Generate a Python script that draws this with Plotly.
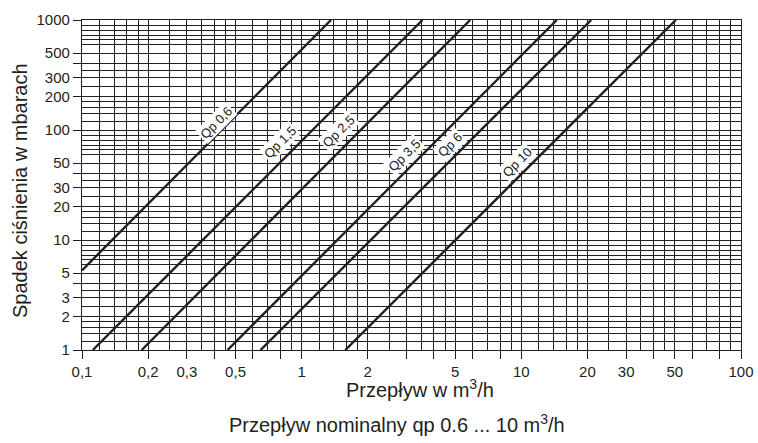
import math
import plotly.graph_objects as go

# ---- data ----
line_names = ["Qp 0,6", "Qp 1,5", "Qp 2,5", "Qp 3,5", "Qp 6", "Qp 10"]
# flow (m3/h) at start / end of each line and pressure drop (mbar) there
flow_start = [0.1, 0.112, 0.187, 0.46, 0.65, 1.58]
drop_start = [5.3, 1, 1, 1, 1, 1]
flow_end = [1.36, 3.55, 5.85, 14.5, 20.8, 50.5]
drop_end = [1000, 1000, 1000, 1000, 1000, 1000]

# label anchor points (flow, drop)
label_flow = [0.41, 0.797, 1.47, 2.93, 4.75, 9.57]
label_drop = [116, 76.3, 97.3, 58.5, 73.6, 50.2]

x_grid_steps = [1, 1.2, 1.4, 1.6, 1.8, 2, 2.5, 3, 3.5, 4, 4.5, 5, 6, 7, 8, 9]
y_grid_steps = [1, 1.2, 1.4, 1.6, 1.8, 2, 2.5, 3, 3.5, 4, 5, 6, 6.6, 7.3, 8, 9]
x_decades = [0.1, 1, 10]
y_decades = [1, 10, 100]

x_tickvals = [0.1, 0.2, 0.3, 0.4, 0.5, 0.6, 0.8, 1, 2, 3, 4, 5, 6, 8,
              10, 20, 30, 40, 50, 60, 80, 100]
x_ticktext = ["0,1", "0,2", "0,3", "", "0,5", "", "", "1", "2", "", "", "5", "", "",
              "10", "20", "30", "", "50", "", "", "100"]
y_tickvals = [1, 2, 3, 4, 5, 10, 20, 30, 40, 50, 100, 200, 300, 400, 500, 1000]
y_ticktext = ["1", "2", "3", "", "5", "10", "20", "30", "", "50",
              "100", "200", "300", "", "500", "1000"]

x_grid = [d * s for d in x_decades for s in x_grid_steps] + [100]
y_grid = [d * s for d in y_decades for s in y_grid_steps] + [1000]

INK = "#231f20"
FONT = "Liberation Sans, Arial, sans-serif"

fig = go.Figure()
for i, name in enumerate(line_names):
    fig.add_trace(go.Scatter(
        x=[flow_start[i], flow_end[i]], y=[drop_start[i], drop_end[i]],
        mode="lines", line=dict(color=INK, width=2.4), name=name,
        showlegend=False, hoverinfo="skip"))

for i, name in enumerate(line_names):
    fig.add_annotation(
        x=math.log10(label_flow[i]), y=math.log10(label_drop[i]),
        xref="x", yref="y",
        text=name, showarrow=False, textangle=-45,
        font=dict(family=FONT, size=13, color=INK),
        bgcolor="white", borderpad=1)

axis_common = dict(
    type="log", showline=True, mirror=True, linecolor=INK, linewidth=1.2,
    ticks="outside", ticklen=8, tickcolor=INK, tickwidth=1.2,
    showgrid=True, gridcolor=INK, gridwidth=1.2, zeroline=False,
    tickfont=dict(family=FONT, size=15, color=INK), automargin=False,
)

fig.update_xaxes(
    **axis_common, range=[-1, 2], tickmode="array",
    tickvals=x_tickvals, ticktext=x_ticktext,
    minor=dict(tickmode="array", tickvals=x_grid, showgrid=True,
               gridcolor=INK, gridwidth=1.2, ticklen=0),
)
fig.update_yaxes(
    **axis_common, range=[0, 3], tickmode="array",
    tickvals=y_tickvals, ticktext=y_ticktext,
    minor=dict(tickmode="array", tickvals=y_grid, showgrid=True,
               gridcolor=INK, gridwidth=1.2, ticklen=0),
)

title_font = dict(family=FONT, size=20, color=INK)
fig.add_annotation(
    x=0, y=0.5, xref="paper", yref="paper", xanchor="center", yanchor="middle",
    xshift=-62, yshift=-6, textangle=-90,
    text="Spadek ciśnienia w mbarach", showarrow=False, font=title_font)
fig.add_annotation(
    x=0.5, y=0, xref="paper", yref="paper", xanchor="center", yanchor="middle",
    xshift=8, yshift=-38,
    text="Przepływ w m<sup>3</sup>/h", showarrow=False, font=title_font)
fig.add_annotation(
    x=0.5, y=0, xref="paper", yref="paper", xanchor="center", yanchor="middle",
    xshift=-15, yshift=-73,
    text="Przepływ nominalny qp 0.6 ... 10 m<sup>3</sup>/h", showarrow=False,
    font=title_font)

fig.update_layout(
    width=758, height=443,
    margin=dict(l=82, r=17, t=20, b=93),
    paper_bgcolor="white", plot_bgcolor="white",
)

fig.write_html("out.html", config={"displayModeBar": False},
               post_script="document.body.style.margin='0px';document.body.style.overflow='hidden';")
